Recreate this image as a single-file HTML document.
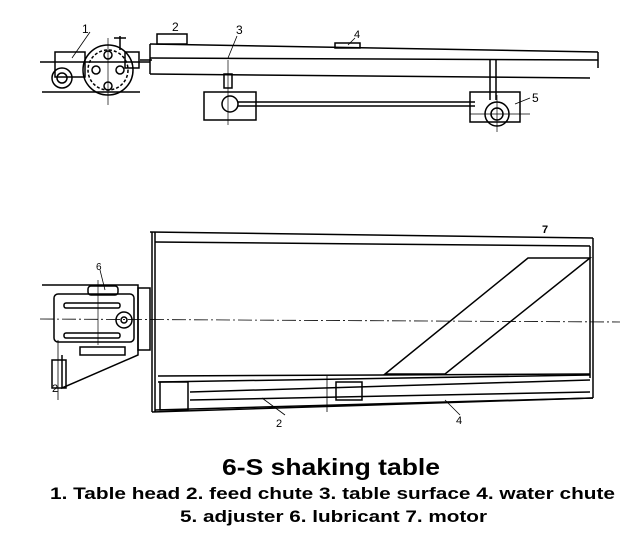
<!DOCTYPE html>
<html><head><style>
html,body{margin:0;padding:0;background:#fff;width:643px;height:542px;overflow:hidden}
svg{position:absolute;left:0;top:0}
.t{font-family:"Liberation Sans",sans-serif;fill:#000}
</style></head><body>
<svg width="643" height="542" viewBox="0 0 643 542" fill="none" stroke="#000" stroke-width="1.5">
<!-- TOP VIEW -->
<line x1="40" y1="62" x2="150" y2="62"/>
<rect x="55" y="52" width="30" height="25"/>
<circle cx="62" cy="78" r="10"/>
<circle cx="62" cy="78" r="5"/>
<circle cx="108" cy="70" r="25"/>
<circle cx="108" cy="70" r="20" stroke-dasharray="3,2"/>
<circle cx="108" cy="55" r="4"/><circle cx="108" cy="86" r="4"/><circle cx="96" cy="70" r="4"/><circle cx="120" cy="70" r="4"/>
<line x1="108" y1="38" x2="108" y2="105" stroke-width="0.7"/>
<line x1="42" y1="92" x2="140" y2="92"/>
<line x1="120" y1="36" x2="120" y2="50"/><line x1="114" y1="38" x2="126" y2="38"/>
<rect x="125" y="52" width="14" height="16"/>
<line x1="140" y1="60" x2="152" y2="60"/>
<line x1="150" y1="44" x2="598" y2="52"/>
<line x1="150" y1="58" x2="598" y2="60"/>
<line x1="150" y1="74" x2="590" y2="78"/>
<line x1="150" y1="44" x2="150" y2="74"/>
<line x1="598" y1="52" x2="598" y2="68"/>
<rect x="157" y="34" width="30" height="10"/>
<rect x="335" y="43" width="25" height="5"/>
<line x1="228" y1="60" x2="228" y2="125" stroke-width="0.7"/>
<rect x="224" y="74" width="8" height="14"/>
<rect x="204" y="92" width="52" height="28"/>
<circle cx="230" cy="104" r="8"/>
<line x1="238" y1="102" x2="475" y2="102"/>
<line x1="238" y1="106" x2="475" y2="106"/>
<rect x="470" y="92" width="50" height="30"/>
<line x1="490" y1="60" x2="490" y2="100"/><line x1="496" y1="60" x2="496" y2="100"/>
<circle cx="497" cy="114" r="12"/><circle cx="497" cy="114" r="6"/>
<line x1="497" y1="95" x2="497" y2="132" stroke-width="0.7"/>
<line x1="470" y1="114" x2="530" y2="114" stroke-width="0.7"/>
<line x1="90" y1="32" x2="72" y2="58" stroke-width="0.8"/>
<line x1="237" y1="36" x2="228" y2="58" stroke-width="0.8"/>
<line x1="355" y1="38" x2="348" y2="45" stroke-width="0.8"/>
<line x1="530" y1="98" x2="515" y2="104" stroke-width="0.8"/>
<!-- BOTTOM VIEW -->
<line x1="150" y1="232" x2="593" y2="238"/>
<line x1="152" y1="232" x2="152" y2="412"/>
<line x1="155" y1="232" x2="155" y2="412"/>
<line x1="152" y1="412" x2="593" y2="398"/>
<line x1="593" y1="238" x2="593" y2="398"/>
<line x1="155" y1="242" x2="590" y2="246"/>
<line x1="590" y1="246" x2="590" y2="378"/>
<polygon points="528,258 590,258 445,374 385,374"/>
<line x1="158" y1="376" x2="590" y2="374"/>
<line x1="158" y1="382" x2="590" y2="375"/>
<line x1="155" y1="410" x2="593" y2="398"/>
<line x1="190" y1="392" x2="590" y2="380"/>
<line x1="190" y1="400" x2="590" y2="392"/>
<rect x="160" y="382" width="28" height="28"/>
<rect x="336" y="382" width="26" height="18"/>
<line x1="327" y1="376" x2="327" y2="412" stroke-width="0.8"/>
<line x1="40" y1="319" x2="620" y2="322" stroke-dasharray="14,3,2,3" stroke-width="0.8"/>
<polyline points="42,285 138,285 138,355 62,388 62,355"/>
<rect x="138" y="288" width="12" height="62"/>
<rect x="54" y="294" width="80" height="48" rx="4"/>
<rect x="64" y="303" width="56" height="5" rx="2"/>
<rect x="64" y="333" width="56" height="5" rx="2"/>
<rect x="88" y="286" width="30" height="9" rx="3"/>
<circle cx="124" cy="320" r="8"/><circle cx="124" cy="320" r="3"/>
<rect x="52" y="360" width="14" height="28"/>
<rect x="80" y="347" width="45" height="8"/>
<line x1="58" y1="340" x2="58" y2="400" stroke-width="0.8"/>
<line x1="98" y1="280" x2="98" y2="345" stroke-width="0.7"/>
<line x1="100" y1="270" x2="105" y2="290" stroke-width="0.8"/>
<line x1="285" y1="415" x2="262" y2="398" stroke-width="0.8"/>
<line x1="460" y1="415" x2="445" y2="400" stroke-width="0.8"/>
<g stroke="none">
<text class="t" x="82" y="33" font-size="12" font-family="Liberation Serif">1</text>
<text class="t" x="172" y="31" font-size="12">2</text>
<text class="t" x="236" y="34" font-size="12" font-family="Liberation Serif">3</text>
<text class="t" x="354" y="38" font-size="11">4</text>
<text class="t" x="532" y="102" font-size="12">5</text>
<text class="t" x="96" y="270" font-size="10">6</text>
<text class="t" x="542" y="233" font-size="11" font-weight="bold">7</text>
<text class="t" x="52" y="392" font-size="11">2</text>
<text class="t" x="276" y="427" font-size="11">2</text>
<text class="t" x="456" y="424" font-size="11">4</text>
<text class="t" x="222" y="475" font-size="23" font-weight="bold" textLength="218" lengthAdjust="spacingAndGlyphs">6-S shaking table</text>
<text class="t" x="50" y="499" font-size="17" font-weight="bold" textLength="565" lengthAdjust="spacingAndGlyphs">1. Table head  2. feed chute   3. table surface  4. water chute</text>
<text class="t" x="180" y="522" font-size="17" font-weight="bold" textLength="307" lengthAdjust="spacingAndGlyphs">5. adjuster  6. lubricant   7. motor</text>
</g>
</svg>
</body></html>
